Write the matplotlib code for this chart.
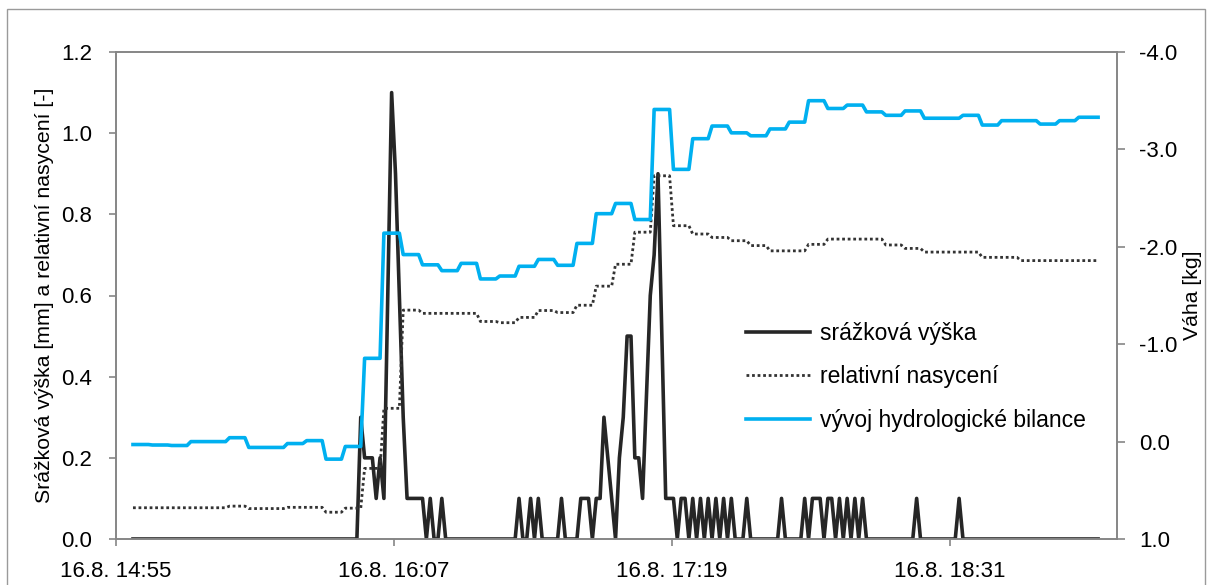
import matplotlib
matplotlib.use('Agg')
import matplotlib.pyplot as plt
from matplotlib.patches import Rectangle
from matplotlib.ticker import FormatStrFormatter
import numpy as np

# one sample per minute, time counted in minutes after 16.8. 14:55
first_sample = 4.4
n_samples = 251

# rain gauge: minutes (sample index) with nonzero precipitation, in mm
rain_idx = [59, 60, 61, 62, 63, 64, 65, 66, 67, 68, 69, 70, 71, 72, 73, 74, 75, 77, 80,
            100, 103, 105, 111, 116, 117, 118, 120, 121, 122, 123, 124, 126, 127, 128, 129,
            130, 131, 132, 133, 134, 135, 136, 137, 138, 139, 140, 142, 143, 145, 147, 149,
            151, 153, 155, 159, 168, 174, 176, 177, 178, 180, 181, 183, 185, 187, 189, 203, 214]
rain_mm = [0.3, 0.2, 0.2, 0.2, 0.1, 0.2, 0.1, 0.6, 1.1, 0.9, 0.6, 0.3, 0.1, 0.1, 0.1, 0.1, 0.1, 0.1, 0.1,
           0.1, 0.1, 0.1, 0.1, 0.1, 0.1, 0.1, 0.1, 0.1, 0.3, 0.2, 0.1, 0.2, 0.3, 0.5, 0.5,
           0.2, 0.2, 0.1, 0.35, 0.6, 0.7, 0.9, 0.5, 0.1, 0.1, 0.1, 0.1, 0.1, 0.1, 0.1, 0.1,
           0.1, 0.1, 0.1, 0.1, 0.1, 0.1, 0.1, 0.1, 0.1, 0.1, 0.1, 0.1, 0.1, 0.1, 0.1, 0.1, 0.1]

# weight and saturation are logged in 5 minute blocks
block_len = 5
weight_kg = [0.03, 0.035, 0.04, 0.00, 0.00, -0.04, 0.06, 0.06, 0.02, -0.01,
             0.18, 0.05, -0.855, -2.14, -1.92, -1.815, -1.755, -1.83, -1.67, -1.70,
             -1.80, -1.87, -1.81, -2.035, -2.34, -2.445, -2.28, -3.41, -2.795, -3.11,
             -3.24, -3.17, -3.14, -3.21, -3.28, -3.50, -3.42, -3.455, -3.385, -3.35,
             -3.395, -3.32, -3.32, -3.35, -3.25, -3.295, -3.295, -3.26, -3.295, -3.33]
saturation = [0.077, 0.077, 0.077, 0.077, 0.077, 0.081, 0.075, 0.075, 0.078, 0.078,
              0.066, 0.076, 0.174, 0.322, 0.564, 0.556, 0.556, 0.556, 0.536, 0.533,
              0.546, 0.563, 0.558, 0.576, 0.623, 0.677, 0.756, 0.895, 0.772, 0.7515,
              0.743, 0.735, 0.723, 0.71, 0.71, 0.726, 0.739, 0.739, 0.739, 0.7245,
              0.716, 0.707, 0.707, 0.707, 0.694, 0.694, 0.686, 0.686, 0.686, 0.686]

tick_minutes = [0, 72, 144, 216]
tick_labels = ['16.8. 14:55', '16.8. 16:07', '16.8. 17:19', '16.8. 18:31']

plt.rcParams['font.family'] = 'Liberation Sans'
plt.rcParams['axes.unicode_minus'] = False

t = first_sample + np.arange(n_samples)
rain = np.zeros(n_samples)
rain[rain_idx] = rain_mm

# each block is flat, then steps to the next one within a minute
starts = np.arange(len(weight_kg)) * block_len
ends = np.append(starts[1:] - 1, n_samples - 1)
block_t = np.column_stack([t[starts], t[ends]]).ravel()

grey = '#868686'
fig = plt.figure(figsize=(12.13, 5.85), dpi=100)
ax = fig.add_axes([116 / 1213, 1 - 539 / 585, 1001 / 1213, 487 / 585])
ax2 = ax.twinx()

l1, = ax.plot(t, rain, color='#262626', lw=2.6, label='srážková výška')
l2, = ax.plot(block_t, np.repeat(saturation, 2), color='#333333', lw=2.0,
              ls=(0, (1, 1)), label='relativní nasycení')
l3, = ax2.plot(block_t, np.repeat(weight_kg, 2), color='#00B0F0', lw=2.6,
               label='vývoj hydrologické bilance')

ax.set_xlim(0, 259.3)
ax.set_ylim(0, 1.2)
ax.set_yticks(np.arange(0, 1.21, 0.2))
ax.yaxis.set_major_formatter(FormatStrFormatter('%.1f'))
ax2.set_ylim(1.0, -4.0)
ax2.set_yticks(np.arange(-4, 1.1, 1))
ax2.yaxis.set_major_formatter(FormatStrFormatter('%.1f'))
ax.set_xticks(tick_minutes)
ax.set_xticklabels(tick_labels)

for a in (ax, ax2):
    for s in a.spines.values():
        s.set_color(grey)
        s.set_linewidth(1.2)
ax.tick_params(axis='y', colors=grey, labelcolor='black', labelsize=16, length=5, width=1.2, pad=12)
ax.tick_params(axis='x', colors=grey, labelcolor='black', labelsize=16, length=5, width=1.2, pad=11)
ax2.tick_params(axis='y', colors=grey, labelcolor='black', labelsize=16, length=6, width=1.2, pad=10)

ax.set_ylabel('Srážková výška [mm] a relativní nasycení [-]', fontsize=15.3, labelpad=5)
ax2.set_ylabel('Váha [kg]', fontsize=15.3, labelpad=4)

ax2.legend(handles=[l1, l2, l3], loc='upper left', bbox_to_anchor=(0.62, 0.465),
           frameon=False, fontsize=16.5, handlelength=2.8, handletextpad=0.45,
           labelspacing=0.9, borderaxespad=0)

# chart area border
fig.patches.append(Rectangle((7 / 1213, -0.05), 1198 / 1213, 1.05 - 9 / 585,
                             transform=fig.transFigure, fill=False,
                             edgecolor='#9a9a9a', lw=1.0))

fig.savefig('out.png', dpi=100)
